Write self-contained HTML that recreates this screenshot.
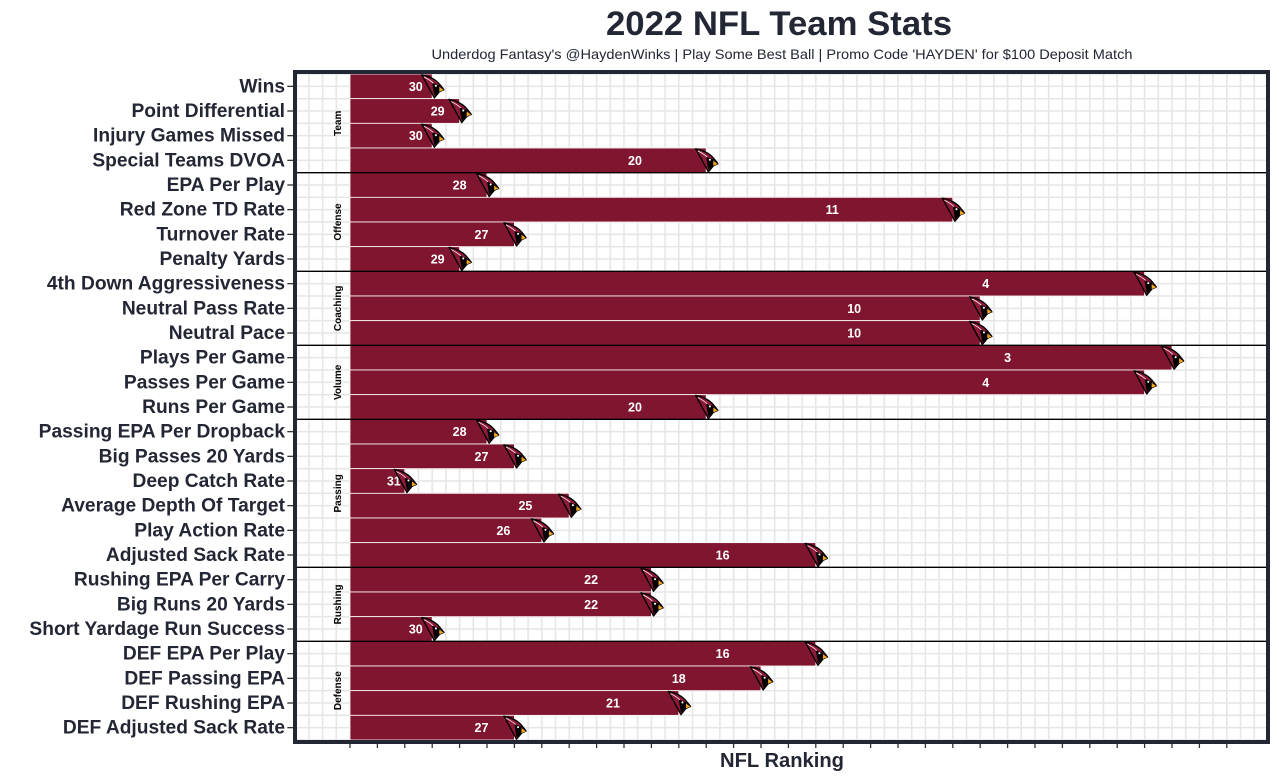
<!DOCTYPE html>
<html><head><meta charset="utf-8"><style>
html,body{margin:0;padding:0;background:#fff;}
svg{display:block;}
text{font-family:"Liberation Sans",Arial,sans-serif;}
</style></head><body>
<svg width="1279" height="780" viewBox="0 0 1279 780" xmlns="http://www.w3.org/2000/svg">
<defs>
<pattern id="vg" patternUnits="userSpaceOnUse" x="349.2" y="0" width="13.7" height="780"><rect x="0" y="0" width="1.6" height="780" fill="#e6e6e6"/></pattern>
<pattern id="hg" patternUnits="userSpaceOnUse" x="0" y="73.2" width="1279" height="12.3333"><rect x="0" y="0" width="1279" height="1.6" fill="#e6e6e6"/></pattern>
<g id="c" transform="scale(1.05)">
<path d="M-10,-11 C-4,-10 3,-7 7,-2 L11,3 L7,5 L2,11 C0,7 -3,2 -5,-2 C-7,-5 -8,-8 -10,-11 Z" fill="#8c1a38" stroke="#000" stroke-width="1.3" stroke-linejoin="round"/>
<path d="M0,-3 L7,-1 L7,5 L2,9 Z" fill="#000"/>
<circle cx="3.5" cy="-0.5" r="1" fill="#fff"/>
<path d="M6.5,0 L11.5,3.5 L6.5,5.5 Z" fill="#f2a81d" stroke="#000" stroke-width="0.5"/>
<path d="M-8,-9 C-4,-7 -1,-5 1,-3" stroke="#fff" stroke-width="0.7" fill="none"/>
</g>
</defs>
<rect width="1279" height="780" fill="#fff"/>
<!-- titles -->
<text x="779" y="35" text-anchor="middle" font-size="34.5" font-weight="bold" fill="#232634" textLength="346" lengthAdjust="spacingAndGlyphs">2022 NFL Team Stats</text>
<text x="782" y="59" text-anchor="middle" font-size="14" fill="#232634" textLength="701" lengthAdjust="spacingAndGlyphs">Underdog Fantasy's @HaydenWinks | Play Some Best Ball | Promo Code 'HAYDEN' for $100 Deposit Match</text>
<text x="782" y="767" text-anchor="middle" font-size="20" font-weight="bold" fill="#232634" textLength="124" lengthAdjust="spacingAndGlyphs">NFL Ranking</text>
<!-- grid -->
<rect x="297" y="74" width="969" height="666" fill="url(#vg)"/>
<rect x="297" y="74" width="969" height="666" fill="url(#hg)"/>
<!-- bars -->
<g fill="#80152f" stroke="#fff" stroke-width="0.8">
<rect x="350" y="74" width="82.2" height="24.667"/>
<rect x="350" y="98.67" width="109.6" height="24.667"/>
<rect x="350" y="123.33" width="82.2" height="24.667"/>
<rect x="350" y="148" width="356.2" height="24.667"/>
<rect x="350" y="172.67" width="137" height="24.667"/>
<rect x="350" y="197.33" width="602.8" height="24.667"/>
<rect x="350" y="222" width="164.4" height="24.667"/>
<rect x="350" y="246.67" width="109.6" height="24.667"/>
<rect x="350" y="271.33" width="794.6" height="24.667"/>
<rect x="350" y="296" width="630.2" height="24.667"/>
<rect x="350" y="320.67" width="630.2" height="24.667"/>
<rect x="350" y="345.33" width="822" height="24.667"/>
<rect x="350" y="370" width="794.6" height="24.667"/>
<rect x="350" y="394.67" width="356.2" height="24.667"/>
<rect x="350" y="419.33" width="137" height="24.667"/>
<rect x="350" y="444" width="164.4" height="24.667"/>
<rect x="350" y="468.67" width="54.8" height="24.667"/>
<rect x="350" y="493.33" width="219.2" height="24.667"/>
<rect x="350" y="518" width="191.8" height="24.667"/>
<rect x="350" y="542.67" width="465.8" height="24.667"/>
<rect x="350" y="567.33" width="301.4" height="24.667"/>
<rect x="350" y="592" width="301.4" height="24.667"/>
<rect x="350" y="616.67" width="82.2" height="24.667"/>
<rect x="350" y="641.33" width="465.8" height="24.667"/>
<rect x="350" y="666" width="411" height="24.667"/>
<rect x="350" y="690.67" width="328.8" height="24.667"/>
<rect x="350" y="715.33" width="164.4" height="24.667"/>
</g>
<!-- value labels -->
<g font-size="12.5" font-weight="bold" fill="#fff" text-anchor="middle">
<text x="415.8" y="90.8">30</text>
<text x="437.7" y="115.5">29</text>
<text x="415.8" y="140.2">30</text>
<text x="635" y="164.8">20</text>
<text x="459.6" y="189.5">28</text>
<text x="832.2" y="214.2">11</text>
<text x="481.5" y="238.8">27</text>
<text x="437.7" y="263.5">29</text>
<text x="985.7" y="288.2">4</text>
<text x="854.2" y="312.8">10</text>
<text x="854.2" y="337.5">10</text>
<text x="1007.6" y="362.2">3</text>
<text x="985.7" y="386.8">4</text>
<text x="635" y="411.5">20</text>
<text x="459.6" y="436.2">28</text>
<text x="481.5" y="460.8">27</text>
<text x="393.8" y="485.5">31</text>
<text x="525.4" y="510.2">25</text>
<text x="503.4" y="534.8">26</text>
<text x="722.6" y="559.5">16</text>
<text x="591.1" y="584.2">22</text>
<text x="591.1" y="608.8">22</text>
<text x="415.8" y="633.5">30</text>
<text x="722.6" y="658.2">16</text>
<text x="678.8" y="682.8">18</text>
<text x="613" y="707.5">21</text>
<text x="481.5" y="732.2">27</text>
</g>
<!-- logos -->
<use href="#c" transform="translate(432.2,86.33)"/>
<use href="#c" transform="translate(459.6,111)"/>
<use href="#c" transform="translate(432.2,135.67)"/>
<use href="#c" transform="translate(706.2,160.33)"/>
<use href="#c" transform="translate(487,185)"/>
<use href="#c" transform="translate(952.8,209.67)"/>
<use href="#c" transform="translate(514.4,234.33)"/>
<use href="#c" transform="translate(459.6,259)"/>
<use href="#c" transform="translate(1144.6,283.67)"/>
<use href="#c" transform="translate(980.2,308.33)"/>
<use href="#c" transform="translate(980.2,333)"/>
<use href="#c" transform="translate(1172,357.67)"/>
<use href="#c" transform="translate(1144.6,382.33)"/>
<use href="#c" transform="translate(706.2,407)"/>
<use href="#c" transform="translate(487,431.67)"/>
<use href="#c" transform="translate(514.4,456.33)"/>
<use href="#c" transform="translate(404.8,481)"/>
<use href="#c" transform="translate(569.2,505.67)"/>
<use href="#c" transform="translate(541.8,530.33)"/>
<use href="#c" transform="translate(815.8,555)"/>
<use href="#c" transform="translate(651.4,579.67)"/>
<use href="#c" transform="translate(651.4,604.33)"/>
<use href="#c" transform="translate(432.2,629)"/>
<use href="#c" transform="translate(815.8,653.67)"/>
<use href="#c" transform="translate(761,678.33)"/>
<use href="#c" transform="translate(678.8,703)"/>
<use href="#c" transform="translate(514.4,727.67)"/>
<!-- group separators -->
<g stroke="#000" stroke-width="1.3">
<line x1="297" x2="1266" y1="172.67" y2="172.67"/>
<line x1="297" x2="1266" y1="271.33" y2="271.33"/>
<line x1="297" x2="1266" y1="345.33" y2="345.33"/>
<line x1="297" x2="1266" y1="419.33" y2="419.33"/>
<line x1="297" x2="1266" y1="567.33" y2="567.33"/>
<line x1="297" x2="1266" y1="641.33" y2="641.33"/>
</g>
<!-- facet labels -->
<g font-size="10" font-weight="bold" fill="#000" text-anchor="middle">
<text transform="translate(341,123.33) rotate(-90)">Team</text>
<text transform="translate(341,222) rotate(-90)">Offense</text>
<text transform="translate(341,308.33) rotate(-90)">Coaching</text>
<text transform="translate(341,382.33) rotate(-90)">Volume</text>
<text transform="translate(341,493.33) rotate(-90)">Passing</text>
<text transform="translate(341,604.33) rotate(-90)">Rushing</text>
<text transform="translate(341,690.67) rotate(-90)">Defense</text>
</g>
<!-- panel border -->
<rect x="295" y="72" width="973" height="670" fill="none" stroke="#232733" stroke-width="4"/>
<!-- y ticks -->
<g stroke="#333" stroke-width="1.3">
<line x1="287.3" x2="293" y1="86.33" y2="86.33"/>
<line x1="287.3" x2="293" y1="111" y2="111"/>
<line x1="287.3" x2="293" y1="135.67" y2="135.67"/>
<line x1="287.3" x2="293" y1="160.33" y2="160.33"/>
<line x1="287.3" x2="293" y1="185" y2="185"/>
<line x1="287.3" x2="293" y1="209.67" y2="209.67"/>
<line x1="287.3" x2="293" y1="234.33" y2="234.33"/>
<line x1="287.3" x2="293" y1="259" y2="259"/>
<line x1="287.3" x2="293" y1="283.67" y2="283.67"/>
<line x1="287.3" x2="293" y1="308.33" y2="308.33"/>
<line x1="287.3" x2="293" y1="333" y2="333"/>
<line x1="287.3" x2="293" y1="357.67" y2="357.67"/>
<line x1="287.3" x2="293" y1="382.33" y2="382.33"/>
<line x1="287.3" x2="293" y1="407" y2="407"/>
<line x1="287.3" x2="293" y1="431.67" y2="431.67"/>
<line x1="287.3" x2="293" y1="456.33" y2="456.33"/>
<line x1="287.3" x2="293" y1="481" y2="481"/>
<line x1="287.3" x2="293" y1="505.67" y2="505.67"/>
<line x1="287.3" x2="293" y1="530.33" y2="530.33"/>
<line x1="287.3" x2="293" y1="555" y2="555"/>
<line x1="287.3" x2="293" y1="579.67" y2="579.67"/>
<line x1="287.3" x2="293" y1="604.33" y2="604.33"/>
<line x1="287.3" x2="293" y1="629" y2="629"/>
<line x1="287.3" x2="293" y1="653.67" y2="653.67"/>
<line x1="287.3" x2="293" y1="678.33" y2="678.33"/>
<line x1="287.3" x2="293" y1="703" y2="703"/>
<line x1="287.3" x2="293" y1="727.67" y2="727.67"/>
</g>
<!-- x ticks -->
<g stroke="#333" stroke-width="1.3">
<line x1="350" x2="350" y1="744" y2="748"/>
<line x1="377.4" x2="377.4" y1="744" y2="748"/>
<line x1="404.8" x2="404.8" y1="744" y2="748"/>
<line x1="432.2" x2="432.2" y1="744" y2="748"/>
<line x1="459.6" x2="459.6" y1="744" y2="748"/>
<line x1="487" x2="487" y1="744" y2="748"/>
<line x1="514.4" x2="514.4" y1="744" y2="748"/>
<line x1="541.8" x2="541.8" y1="744" y2="748"/>
<line x1="569.2" x2="569.2" y1="744" y2="748"/>
<line x1="596.6" x2="596.6" y1="744" y2="748"/>
<line x1="624" x2="624" y1="744" y2="748"/>
<line x1="651.4" x2="651.4" y1="744" y2="748"/>
<line x1="678.8" x2="678.8" y1="744" y2="748"/>
<line x1="706.2" x2="706.2" y1="744" y2="748"/>
<line x1="733.6" x2="733.6" y1="744" y2="748"/>
<line x1="761" x2="761" y1="744" y2="748"/>
<line x1="788.4" x2="788.4" y1="744" y2="748"/>
<line x1="815.8" x2="815.8" y1="744" y2="748"/>
<line x1="843.2" x2="843.2" y1="744" y2="748"/>
<line x1="870.6" x2="870.6" y1="744" y2="748"/>
<line x1="898" x2="898" y1="744" y2="748"/>
<line x1="925.4" x2="925.4" y1="744" y2="748"/>
<line x1="952.8" x2="952.8" y1="744" y2="748"/>
<line x1="980.2" x2="980.2" y1="744" y2="748"/>
<line x1="1007.6" x2="1007.6" y1="744" y2="748"/>
<line x1="1035" x2="1035" y1="744" y2="748"/>
<line x1="1062.4" x2="1062.4" y1="744" y2="748"/>
<line x1="1089.8" x2="1089.8" y1="744" y2="748"/>
<line x1="1117.2" x2="1117.2" y1="744" y2="748"/>
<line x1="1144.6" x2="1144.6" y1="744" y2="748"/>
<line x1="1172" x2="1172" y1="744" y2="748"/>
<line x1="1199.4" x2="1199.4" y1="744" y2="748"/>
<line x1="1226.8" x2="1226.8" y1="744" y2="748"/>
</g>
<!-- y labels -->
<g font-size="19.2" font-weight="bold" fill="#232634" text-anchor="end">
<text x="285" y="92.3">Wins</text>
<text x="285" y="117">Point Differential</text>
<text x="285" y="141.7">Injury Games Missed</text>
<text x="285" y="166.3">Special Teams DVOA</text>
<text x="285" y="191">EPA Per Play</text>
<text x="285" y="215.7">Red Zone TD Rate</text>
<text x="285" y="240.3">Turnover Rate</text>
<text x="285" y="265">Penalty Yards</text>
<text x="285" y="289.7">4th Down Aggressiveness</text>
<text x="285" y="314.3">Neutral Pass Rate</text>
<text x="285" y="339">Neutral Pace</text>
<text x="285" y="363.7">Plays Per Game</text>
<text x="285" y="388.3">Passes Per Game</text>
<text x="285" y="413">Runs Per Game</text>
<text x="285" y="437.7">Passing EPA Per Dropback</text>
<text x="285" y="462.3">Big Passes 20 Yards</text>
<text x="285" y="487">Deep Catch Rate</text>
<text x="285" y="511.7">Average Depth Of Target</text>
<text x="285" y="536.3">Play Action Rate</text>
<text x="285" y="561">Adjusted Sack Rate</text>
<text x="285" y="585.7">Rushing EPA Per Carry</text>
<text x="285" y="610.3">Big Runs 20 Yards</text>
<text x="285" y="635">Short Yardage Run Success</text>
<text x="285" y="659.7">DEF EPA Per Play</text>
<text x="285" y="684.3">DEF Passing EPA</text>
<text x="285" y="709">DEF Rushing EPA</text>
<text x="285" y="733.7">DEF Adjusted Sack Rate</text>
</g>
</svg>
</body></html>
